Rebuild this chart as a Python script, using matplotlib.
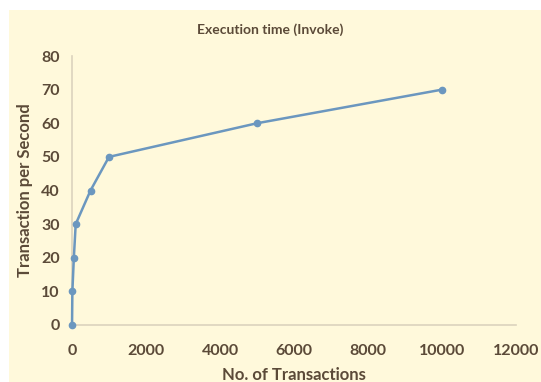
import matplotlib.pyplot as plt
from matplotlib.patches import Rectangle

# data
transactions = [1, 10, 50, 100, 500, 1000, 5000, 10000]
tps = [0, 10, 20, 30, 40, 50, 60, 70]
x_ticks = [0, 2000, 4000, 6000, 8000, 10000, 12000]
y_ticks = [0, 10, 20, 30, 40, 50, 60, 70, 80]

bg = '#fff9db'
txt = '#5b4a38'
line_col = '#6b97bf'
spine_col = '#dcd3bd'

plt.rcParams['font.family'] = ['Lato', 'DejaVu Sans']

fig = plt.figure(figsize=(5.41, 3.82), dpi=100)
fig.patch.set_facecolor('white')
fig.patches.append(Rectangle((9/541, 0), 1, 1 - 10/382, transform=fig.transFigure,
                             facecolor=bg, edgecolor='none', zorder=-10))

ax = fig.add_axes([72/541, 1 - 325/382, (516 - 72)/541, (325 - 56)/382])
ax.set_facecolor(bg)
ax.plot(transactions, tps, color=line_col, lw=1.8, marker='o', ms=4.5, zorder=3, clip_on=False)

ax.set_xlim(0, 12000)
ax.set_ylim(0, 80)
ax.set_xticks(x_ticks)
ax.set_yticks(y_ticks)
ax.tick_params(length=0, labelsize=11.5, labelcolor=txt)
ax.tick_params(axis='x', pad=14)
ax.tick_params(axis='y', pad=9)
for lab in ax.get_xticklabels() + ax.get_yticklabels():
    lab.set_fontweight('bold')

for s in ['top', 'right']:
    ax.spines[s].set_visible(False)
for s in ['left', 'bottom']:
    ax.spines[s].set_color(spine_col)
    ax.spines[s].set_linewidth(1.2)

ax.set_xlabel('No. of Transactions', fontsize=12, fontweight='bold', color=txt, labelpad=6)
ax.set_ylabel('Transaction per Second', fontsize=12, fontweight='bold', color=txt, labelpad=6)
fig.text(0.5, 1 - 30/382, 'Execution time (Invoke)', ha='center', va='center',
         fontsize=10, fontweight='bold', color=txt)

fig.savefig('out.png', dpi=100, facecolor=fig.get_facecolor())
